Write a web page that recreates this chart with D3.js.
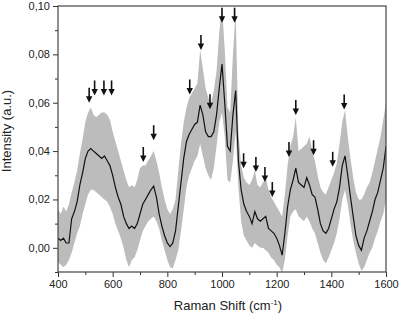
<!DOCTYPE html>
<html>
<head>
<meta charset="utf-8">
<script src="https://cdn.jsdelivr.net/npm/d3@7/dist/d3.min.js"></script>
<style>
    body { margin: 0; background: #fff; }
    .mainCont text { font-family: Arial, "Liberation Sans", sans-serif; fill: #222; }
</style>
</head>
<body>
<div class="mainCont"></div>
<script>
// wavenumbers, every 10 cm-1 from 400 to 1600
var shift = d3.range(400, 1601, 10);

// mean spectrum
var mean = [
    0.004, 0.003, 0.004, 0.002, 0.002, 0.012, 0.015, 0.019, 0.026, 0.031,
    0.037, 0.040, 0.041, 0.040, 0.039, 0.038, 0.037, 0.038, 0.036, 0.034,
    0.030, 0.025, 0.021, 0.018, 0.013, 0.010, 0.008, 0.009, 0.008, 0.010,
    0.014, 0.018, 0.020, 0.022, 0.024, 0.0255, 0.021, 0.014, 0.009, 0.005,
    0.002, 0.0005, 0.002, 0.007, 0.017, 0.027, 0.037, 0.044, 0.047, 0.049,
    0.051, 0.052, 0.059, 0.055, 0.048, 0.046, 0.046, 0.048, 0.055, 0.066,
    0.076, 0.060, 0.042, 0.040, 0.055, 0.065, 0.036, 0.024, 0.018, 0.015,
    0.013, 0.010, 0.015, 0.012, 0.011, 0.012, 0.013, 0.008, 0.007, 0.006,
    0.004, 0.001, -0.003, 0.006, 0.017, 0.024, 0.028, 0.033, 0.027, 0.026,
    0.025, 0.029, 0.026, 0.022, 0.021, 0.016, 0.010, 0.007, 0.006, 0.008,
    0.012, 0.016, 0.019, 0.025, 0.034, 0.038, 0.030, 0.021, 0.013, 0.005,
    0.001, -0.001, 0.004, 0.007, 0.011, 0.015, 0.020, 0.023, 0.028, 0.033,
    0.042
];

// upper edge of the grey band
var upper = [
    0.016, 0.014, 0.017, 0.015, 0.018, 0.023, 0.027, 0.032, 0.039, 0.045,
    0.052, 0.056, 0.058, 0.055, 0.054, 0.055, 0.056, 0.056, 0.055, 0.053,
    0.048, 0.044, 0.040, 0.036, 0.032, 0.028, 0.025, 0.026, 0.025, 0.028,
    0.033, 0.034, 0.034, 0.036, 0.038, 0.040, 0.036, 0.031, 0.025, 0.020,
    0.016, 0.014, 0.016, 0.020, 0.032, 0.043, 0.052, 0.058, 0.062, 0.064,
    0.066, 0.068, 0.082, 0.074, 0.066, 0.062, 0.060, 0.065, 0.073, 0.089,
    0.100, 0.082, 0.058, 0.056, 0.080, 0.098, 0.048, 0.034, 0.029, 0.027,
    0.026, 0.028, 0.032, 0.026, 0.025, 0.027, 0.029, 0.024, 0.021, 0.019,
    0.017, 0.015, 0.013, 0.022, 0.034, 0.042, 0.046, 0.054, 0.040, 0.041,
    0.042, 0.043, 0.046, 0.040, 0.036, 0.030, 0.025, 0.023, 0.022, 0.025,
    0.028, 0.031, 0.035, 0.043, 0.052, 0.057, 0.046, 0.037, 0.029, 0.023,
    0.020, 0.020, 0.022, 0.025, 0.027, 0.031, 0.036, 0.041, 0.046, 0.053,
    0.060
];

// lower edge of the grey band
var lower = [
    -0.006, -0.007, -0.008, -0.007, -0.005, -0.002, 0.002, 0.006, 0.009, 0.014,
    0.018, 0.022, 0.024, 0.024, 0.023, 0.022, 0.021, 0.020, 0.019, 0.017,
    0.014, 0.010, 0.007, 0.004, 0.000, -0.005, -0.008, -0.005, -0.004, -0.001,
    0.003, 0.007, 0.009, 0.011, 0.012, 0.013, 0.011, 0.008, 0.003, -0.001,
    -0.005, -0.008, -0.0085, -0.005, -0.001, 0.007, 0.016, 0.025, 0.030, 0.033,
    0.036, 0.038, 0.043, 0.038, 0.033, 0.030, 0.028, 0.033, 0.042, 0.052,
    0.056, 0.046, 0.028, 0.027, 0.036, 0.048, 0.025, 0.011, 0.005, 0.003,
    0.001, 0.000, 0.002, 0.001, 0.000, 0.000, -0.001, -0.002, -0.004, -0.005,
    -0.007, -0.008, -0.0105, -0.005, 0.005, 0.013, 0.015, 0.016, 0.013, 0.012,
    0.011, 0.013, 0.011, 0.008, 0.006, 0.002, -0.002, -0.005, -0.0065, -0.004,
    -0.001, 0.002, 0.006, 0.012, 0.020, 0.024, 0.018, 0.010, 0.003, -0.002,
    -0.0065, -0.0095, -0.008, -0.005, -0.002, 0.000, 0.004, 0.007, 0.011, 0.014,
    0.020
];

// peak markers: position and height of the arrow tip
var peakShift = [514, 534, 568, 596, 712, 750, 882, 923, 956, 1000, 1046,
    1079, 1124, 1157, 1184, 1245, 1270, 1335, 1405, 1447];
var peakTip = [0.060, 0.063, 0.063, 0.063, 0.0355, 0.0445, 0.0634, 0.0818, 0.0573, 0.0931, 0.0931,
    0.0329, 0.0314, 0.0272, 0.021, 0.0376, 0.0549, 0.0383, 0.0335, 0.0572];

var xTicks = [400, 600, 800, 1000, 1200, 1400, 1600];
var yTicks = [0, 0.02, 0.04, 0.06, 0.08, 0.10];

var margin = {
        top: 6,
        right: 14,
        bottom: 45,
        left: 58
    },
    width = 400 - margin.left - margin.right,
    height = 317 - margin.top - margin.bottom;

var svg = d3.select(".mainCont").append("svg")
    .attr("width", 400)
    .attr("height", 317)
    .append("g")
    .attr("transform", "translate(" + margin.left + "," + margin.top + ")");

var x = d3.scaleLinear().domain([400, 1600]).range([0, width]);
var y = d3.scaleLinear().domain([-0.01, 0.10]).range([height, 0]);

svg.append("clipPath")
    .attr("id", "plotClip")
    .append("rect")
    .attr("width", width)
    .attr("height", height);

var rows = shift.map(function(s, i) {
    return { s: s, m: mean[i], hi: upper[i], lo: lower[i] };
});

// grey band
var band = d3.area()
    .x(function(d) { return x(d.s); })
    .y0(function(d) { return y(d.lo); })
    .y1(function(d) { return y(d.hi); });

svg.append("path")
    .datum(rows)
    .attr("clip-path", "url(#plotClip)")
    .attr("d", band)
    .style("fill", "#bcbcbc");

// mean line
var line = d3.line()
    .x(function(d) { return x(d.s); })
    .y(function(d) { return y(d.m); });

svg.append("path")
    .datum(rows)
    .attr("clip-path", "url(#plotClip)")
    .attr("d", line)
    .style("fill", "none")
    .style("stroke", "#111")
    .style("stroke-width", 1.2);

// arrows
var arrows = svg.selectAll(".arrow")
    .data(peakShift.map(function(s, i) { return { s: s, t: peakTip[i] }; }))
    .enter().append("g")
    .attr("class", "arrow")
    .attr("transform", function(d) {
        return "translate(" + x(d.s) + "," + y(d.t) + ")";
    });

arrows.append("line")
    .attr("y1", -15)
    .attr("y2", -5)
    .style("stroke", "#111")
    .style("stroke-width", 1.6);

arrows.append("path")
    .attr("d", "M-3.2,-6.5L3.2,-6.5L0,0Z")
    .style("fill", "#111");

// axes
var xAxis = svg.append("g")
    .attr("transform", "translate(0," + height + ")")
    .call(d3.axisBottom(x).tickValues(xTicks).tickSize(5).tickFormat(d3.format("d")));

var xMinor = svg.append("g")
    .attr("transform", "translate(0," + height + ")")
    .call(d3.axisBottom(x).tickValues([500, 700, 900, 1100, 1300, 1500]).tickSize(3).tickFormat(""));

var commaFmt = function(d) { return d3.format(".2f")(d).replace(".", ","); };

var yAxis = svg.append("g")
    .call(d3.axisLeft(y).tickValues(yTicks).tickSize(5).tickFormat(commaFmt));

var yMinor = svg.append("g")
    .call(d3.axisLeft(y).tickValues([-0.01, 0.01, 0.03, 0.05, 0.07, 0.09]).tickSize(3).tickFormat(""));

[xAxis, xMinor, yAxis, yMinor].forEach(function(a) {
    a.select(".domain").remove();
    a.selectAll("line").style("stroke", "#333");
    a.selectAll("text").style("font-size", "11px").style("fill", "#222");
});
yAxis.selectAll("text").attr("x", -8);
xAxis.selectAll("text").attr("y", 8);

// frame
svg.append("rect")
    .attr("width", width)
    .attr("height", height)
    .style("fill", "none")
    .style("stroke", "#444")
    .style("stroke-width", 1.2);

// axis titles
var xTitle = svg.append("text")
    .attr("x", width / 2 + 6)
    .attr("y", height + 38)
    .attr("text-anchor", "middle")
    .style("font-size", "13px");
xTitle.append("tspan").text("Raman Shift (cm");
xTitle.append("tspan").attr("dy", -5).style("font-size", "8px").text("-1");
xTitle.append("tspan").attr("dy", 5).text(")");

svg.append("text")
    .attr("transform", "translate(" + (11 - margin.left) + "," + 125 + ") rotate(-90)")
    .attr("text-anchor", "middle")
    .style("font-size", "13px")
    .text("Intensity (a.u.)");
</script>
</body>
</html>
